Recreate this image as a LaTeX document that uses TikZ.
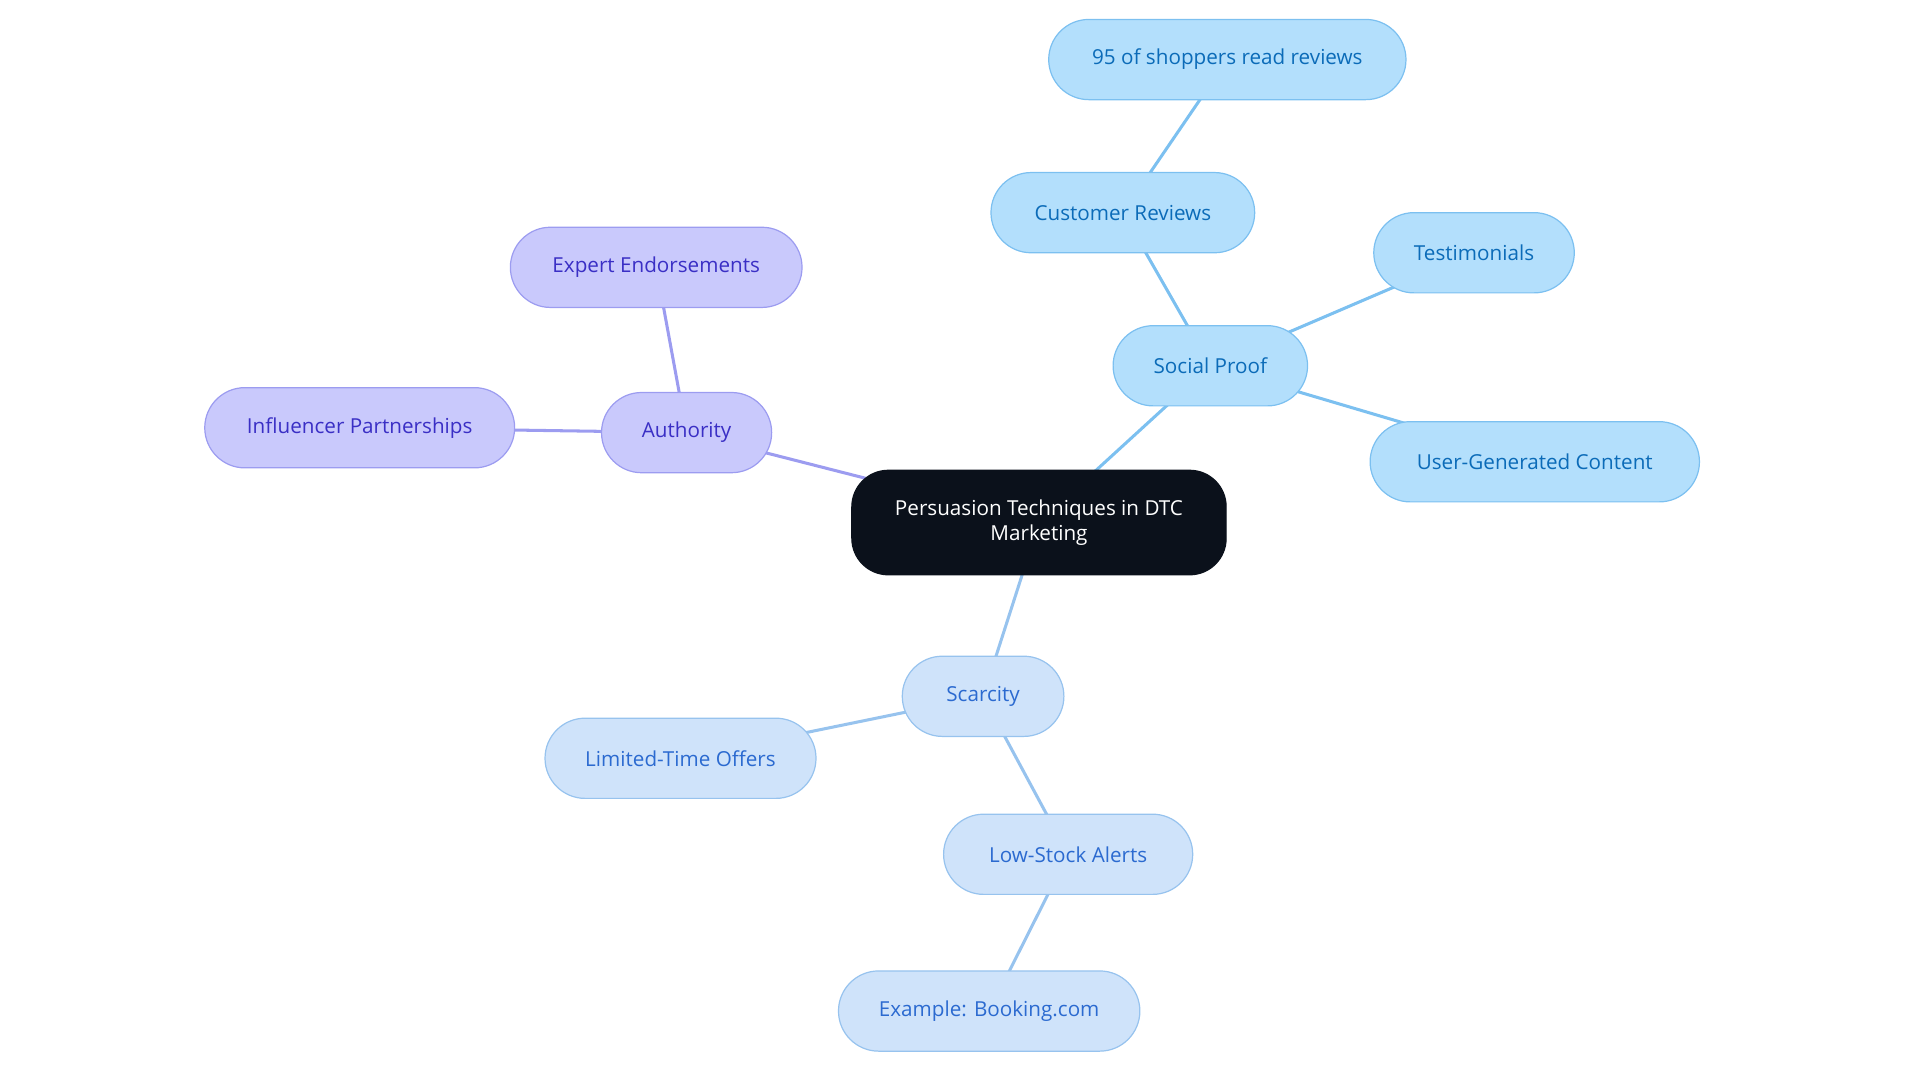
\documentclass[tikz,border=0pt]{standalone}
\usepackage{fontspec}
\setmainfont{Open Sans}
\usetikzlibrary{backgrounds}
\definecolor{bfill}{HTML}{B3DFFC}\definecolor{bdraw}{HTML}{7CC0F0}\definecolor{btext}{HTML}{0B6BB8}
\definecolor{pfill}{HTML}{C9C9FC}\definecolor{pdraw}{HTML}{9C9CF0}\definecolor{ptext}{HTML}{3A2FC5}
\definecolor{sfill}{HTML}{CFE3FA}\definecolor{sdraw}{HTML}{97C3EE}\definecolor{stext}{HTML}{2B6AD0}
\definecolor{rootfill}{HTML}{0B111B}
\tikzset{
 base/.style={rounded corners=33pt,minimum height=66pt,inner sep=0pt,line width=1pt,font=\fontsize{17}{20}\selectfont,align=center},
 bnode/.style={base,fill=bfill,draw=bdraw,text=btext},
 pnode/.style={base,fill=pfill,draw=pdraw,text=ptext},
 snode/.style={base,fill=sfill,draw=sdraw,text=stext},
 bedge/.style={draw=bdraw,line width=2.5pt},
 pedge/.style={draw=pdraw,line width=2.5pt},
 sedge/.style={draw=sdraw,line width=2.5pt},
}
\begin{document}
\begin{tikzpicture}[x=1pt,y=-1pt]
\useasboundingbox (0,0) rectangle (1580,891);
\node[base,fill=rootfill,draw=rootfill,text=white,minimum width=308pt,minimum height=86pt,rounded corners=30pt] (root) at (855,430) {Persuasion Techniques in DTC\\Marketing};
\node[bnode,minimum width=160pt] (sp) at (996,301) {Social Proof};
\node[bnode,minimum width=217pt] (cr) at (924,175) {Customer Reviews};
\node[bnode,minimum width=294pt] (ns) at (1010,49) {95 of shoppers read reviews};
\node[bnode,minimum width=165pt] (te) at (1213,208) {Testimonials};
\node[bnode,minimum width=271pt] (ugc) at (1263,380) {User-Generated Content};
\node[pnode,minimum width=140pt] (au) at (565,356) {Authority};
\node[pnode,minimum width=240pt] (ee) at (540,220) {Expert Endorsements};
\node[pnode,minimum width=255pt] (ip) at (296,352) {Influencer Partnerships};
\node[snode,minimum width=133pt] (sc) at (809,573) {Scarcity};
\node[snode,minimum width=223pt] (lt) at (560,624) {Limited-Time Offers};
\node[snode,minimum width=205pt] (ls) at (879,703) {Low-Stock Alerts};
\node[snode,minimum width=248pt] (ex) at (814,832) {Example: Booking.com};
\begin{scope}[on background layer]
\path[bedge] (root.center)--(sp.center) (sp.center)--(cr.center) (cr.center)--(ns.center) (sp.center)--(te.center) (sp.center)--(ugc.center);
\path[pedge] (root.center)--(au.center) (au.center)--(ee.center) (au.center)--(ip.center);
\path[sedge] (root.center)--(sc.center) (sc.center)--(lt.center) (sc.center)--(ls.center) (ls.center)--(ex.center);
\end{scope}
\end{tikzpicture}
\end{document}
